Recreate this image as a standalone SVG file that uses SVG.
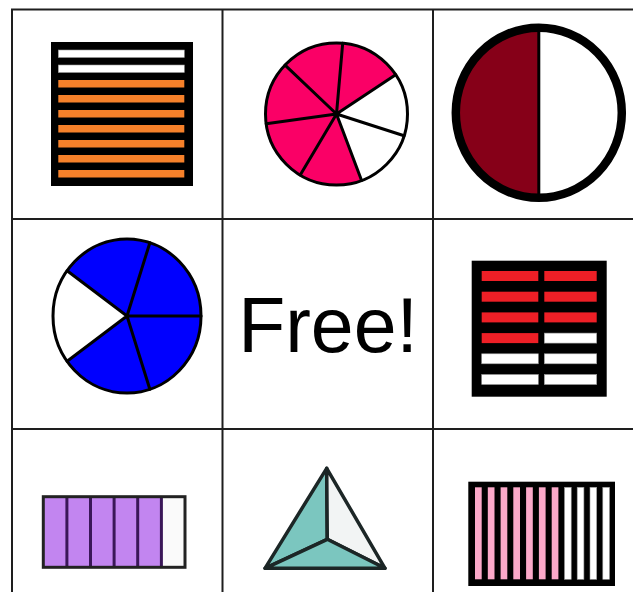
<svg xmlns="http://www.w3.org/2000/svg" width="633" height="592" viewBox="0 0 633 592">
<style>
.grid{stroke:#1e1e1e;stroke-width:2;fill:none}
.blk{fill:#000}
.org{fill:#F7812A}
.wht{fill:#fff;stroke:#999;stroke-width:0.6}
.red{fill:#EE1F26}
.pnk{fill:#FBA9C9}
.pie{stroke:#000;stroke-width:3;fill:none;stroke-linejoin:round;stroke-linecap:round}
.lbl{font-family:"Liberation Sans",Arial,sans-serif;font-size:77px;fill:#000}
</style>
<rect width="633" height="592" fill="#fff"/>
<g id="grid" class="grid">
<line x1="12" y1="9" x2="12" y2="592"/>
<line x1="222.5" y1="9" x2="222.5" y2="592"/>
<line x1="433" y1="9" x2="433" y2="592"/>
<line x1="11" y1="9.5" x2="633" y2="9.5"/>
<line x1="11" y1="219" x2="633" y2="219"/>
<line x1="11" y1="429" x2="633" y2="429"/>
</g>
<g id="cell-orange">
<rect class="blk" x="51" y="42" width="142" height="144"/>
<rect class="wht" x="58.3" y="50" width="126" height="7.5"/>
<rect class="wht" x="58.3" y="65" width="126" height="7.5"/>
<rect class="org" x="58.3" y="80" width="126" height="7.5"/>
<rect class="org" x="58.3" y="95" width="126" height="7.5"/>
<rect class="org" x="58.3" y="110" width="126" height="7.5"/>
<rect class="org" x="58.3" y="125" width="126" height="7.5"/>
<rect class="org" x="58.3" y="140" width="126" height="7.5"/>
<rect class="org" x="58.3" y="155" width="126" height="7.5"/>
<rect class="org" x="58.3" y="170" width="126" height="7.5"/>
</g>
<g id="cell-pinkpie">
<circle cx="336.5" cy="114" r="71" fill="#fff"/>
<path d="M336.5 114 L361.6 180.41 A71 71 0 1 1 395.65 74.73 Z" fill="#FA0066"/>
<g class="pie">
<path d="M336.5 114 L342.69 43.27 M336.5 114 L395.65 74.73 M336.5 114 L404.08 135.78 M336.5 114 L361.6 180.41 M336.5 114 L300.23 175.04 M336.5 114 L266.17 123.71 M336.5 114 L285.08 65.04"/>
<circle cx="336.5" cy="114" r="71"/>
</g>
</g>
<g id="cell-half">
<ellipse cx="538.8" cy="112.8" rx="83" ry="85" fill="#fff"/>
<path d="M538.8 27.8 A83 85 0 0 0 538.8 197.8 Z" fill="#860018"/>
<line x1="538.8" y1="27.8" x2="538.8" y2="197.8" stroke="#000" stroke-width="3"/>
<ellipse cx="538.8" cy="112.8" rx="83" ry="85" fill="none" stroke="#000" stroke-width="8.5"/>
</g>
<g id="cell-bluepie">
<ellipse cx="127" cy="316" rx="74" ry="77" fill="#fff"/>
<path d="M127 316 L67.13 270.74 A74 77 0 1 1 67.13 361.26 Z" fill="#0000FF"/>
<g class="pie">
<path d="M127 316 L149.87 242.77 M127 316 L201 316 M127 316 L149.87 389.23 M127 316 L67.13 361.26 M127 316 L67.13 270.74"/>
<ellipse cx="127" cy="316" rx="74" ry="77"/>
</g>
</g>
<g id="cell-free">
<text class="lbl" x="328" y="352" text-anchor="middle">Free!</text>
</g>
<g id="cell-redbars">
<rect class="blk" x="471.7" y="260.7" width="135" height="136"/>
<rect class="red" x="481.7" y="271" width="56.6" height="10"/>
<rect class="red" x="544.3" y="271" width="52.4" height="10"/>
<rect class="red" x="481.7" y="291.7" width="56.6" height="10"/>
<rect class="red" x="544.3" y="291.7" width="52.4" height="10"/>
<rect class="red" x="481.7" y="312.4" width="56.6" height="10"/>
<rect class="red" x="544.3" y="312.4" width="52.4" height="10"/>
<rect class="red" x="481.7" y="333.1" width="56.6" height="10"/>
<rect class="wht" x="544.3" y="333.1" width="52.4" height="10"/>
<rect class="wht" x="481.7" y="353.8" width="56.6" height="10"/>
<rect class="wht" x="544.3" y="353.8" width="52.4" height="10"/>
<rect class="wht" x="481.7" y="374.5" width="56.6" height="10"/>
<rect class="wht" x="544.3" y="374.5" width="52.4" height="10"/>
</g>
<g id="cell-purple">
<rect x="43.3" y="496.7" width="141.7" height="70.6" fill="#fafafa"/>
<rect x="43.3" y="496.7" width="118.1" height="70.6" fill="#C285F0"/>
<g stroke="#3A1758" stroke-width="3">
<line x1="66.9" y1="496.7" x2="66.9" y2="567.3"/>
<line x1="90.5" y1="496.7" x2="90.5" y2="567.3"/>
<line x1="114.1" y1="496.7" x2="114.1" y2="567.3"/>
<line x1="137.7" y1="496.7" x2="137.7" y2="567.3"/>
<line x1="161.4" y1="496.7" x2="161.4" y2="567.3"/>
</g>
<rect x="43.3" y="496.7" width="141.7" height="70.6" fill="none" stroke="#222" stroke-width="3"/>
</g>
<g id="cell-tetra" stroke="#1c2626" stroke-width="3.5" stroke-linejoin="round">
<path d="M326.7 468.3 L327.3 539.3 L265 568.3 Z" fill="#7BC6BF"/>
<path d="M326.7 468.3 L385 568.3 L327.3 539.3 Z" fill="#f2f4f4"/>
<path d="M327.3 539.3 L385 568.3 L265 568.3 Z" fill="#7BC6BF"/>
</g>
<g id="cell-stripes">
<rect class="blk" x="468.3" y="481.7" width="146.7" height="104.3"/>
<rect class="pnk" x="475" y="487.3" width="6.7" height="92"/>
<rect class="pnk" x="487.8" y="487.3" width="6.7" height="92"/>
<rect class="pnk" x="500.6" y="487.3" width="6.7" height="92"/>
<rect class="pnk" x="513.3" y="487.3" width="6.7" height="92"/>
<rect class="pnk" x="526.1" y="487.3" width="6.7" height="92"/>
<rect class="pnk" x="538.9" y="487.3" width="6.7" height="92"/>
<rect class="pnk" x="551.7" y="487.3" width="6.7" height="92"/>
<rect class="wht" x="564.5" y="487.3" width="6.7" height="92"/>
<rect class="wht" x="577.2" y="487.3" width="6.7" height="92"/>
<rect class="wht" x="590" y="487.3" width="6.7" height="92"/>
<rect class="wht" x="602.8" y="487.3" width="6.7" height="92"/>
</g>
</svg>
